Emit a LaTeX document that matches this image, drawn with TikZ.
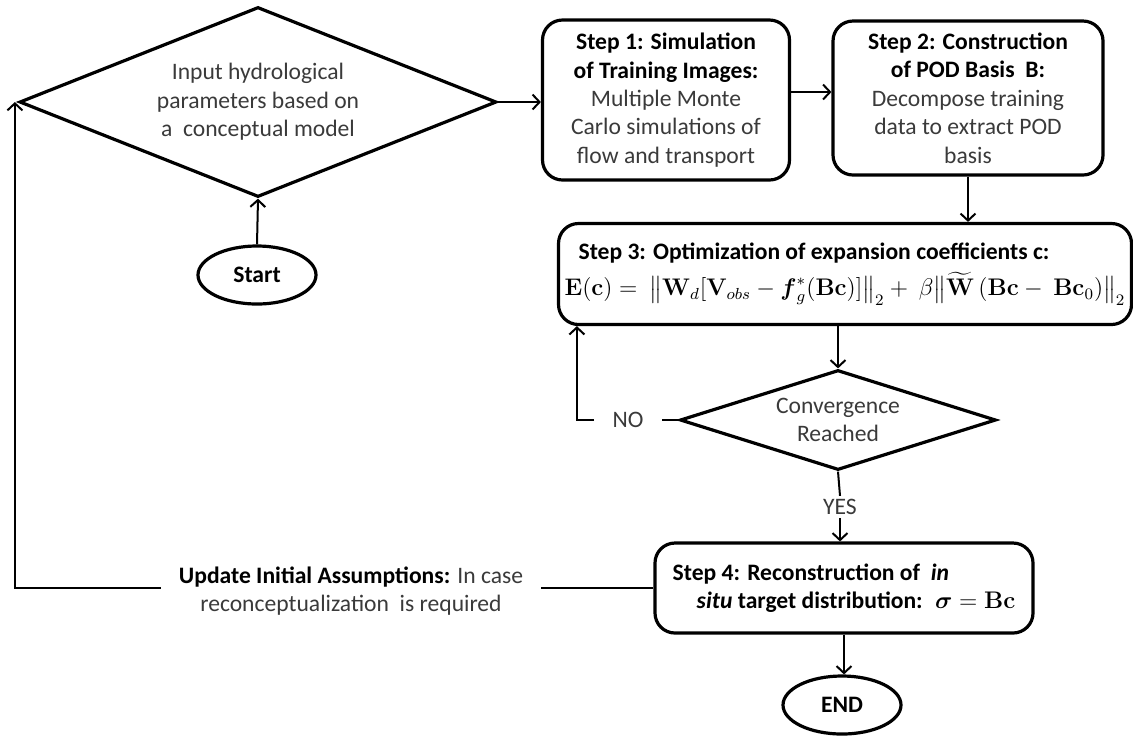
\documentclass[tikz,border=0pt]{standalone}
\usepackage{amsmath,amssymb}
\usepackage[no-math]{fontspec}
\setmainfont{Carlito}
\usetikzlibrary{arrows.meta,positioning,shapes.geometric,calc}
\definecolor{FlowLine}{HTML}{000000}
\definecolor{FlowText}{HTML}{3A3A3A}
\newcommand{\hd}[1]{{\color{black}\bfseries #1}}
\tikzset{>={Straight Barb[length=3.5pt,width=7.5pt]},every node/.style={font=\fontsize{11.8}{14.2}\selectfont,text=FlowText},
 stepbox/.style={draw=FlowLine,line width=1.6pt,rounded corners=10pt,align=center,inner sep=0pt},
 decide/.style={diamond,draw=FlowLine,line width=1.6pt,aspect=2.5,align=center,inner sep=0pt},
 term/.style={ellipse,draw=FlowLine,line width=1.6pt,minimum width=59pt,minimum height=29pt,inner sep=0pt},
 link/.style={draw=FlowLine,line width=1pt},
 tag/.style={inner xsep=9pt,inner ysep=2pt,align=center}}
\begin{document}
\begin{tikzpicture}[x=0.5pt,y=-0.5pt]
\useasboundingbox (0,0) rectangle (1133,736);
\node[decide,minimum width=238.5pt,minimum height=95pt] (in) at (258,102) {Input hydrological\\parameters based on\\a \ conceptual model};
\node[term] (start) at (257,275) {\hd{Start}};
\node[stepbox,minimum width=123.5pt,minimum height=80pt] (s1) at (666,100) {\hd{Step 1: Simulation}\\\hd{of Training Images:}\\Multiple Monte\\Carlo simulations of\\flow and transport};
\node[stepbox,minimum width=135pt,minimum height=77pt] (s2) at (968,98) {\hd{Step 2: Construction}\\\hd{of POD Basis \ B:}\\Decompose training\\data to extract POD\\basis};
\node[stepbox,minimum width=286.5pt,minimum height=50.5pt,align=left] (s3) at (845,274) {\hspace*{7pt}\hd{Step 3: Optimization of expansion coefficients c:}\\[4pt]
 {\fontsize{11.5}{14}\selectfont\color{black}$\mathbf{E}(\mathbf{c}) =\ \bigl\|\mathbf{W}_{d}[\mathbf{V}_{obs}-\boldsymbol{f}_{g}^{*}(\mathbf{Bc})]\bigr\|_2+\ \beta\bigl\|\widetilde{\mathbf{W}}\,(\mathbf{Bc}-\ \mathbf{Bc}_0)\bigr\|_2$}};
\node[decide,minimum width=158pt,minimum height=50pt] (conv) at (838,420) {Convergence\\Reached};
\node[tag] (no) at (628,420) {NO};
\node[tag,inner ysep=1.5pt] (yes) at (840,507) {YES};
\node[stepbox,minimum width=189pt,minimum height=45pt,align=left] (s4) at (844,588) {\hd{Step 4: Reconstruction of \ \textit{in}}\\\hspace*{12pt}\hd{\textit{situ} target distribution: \ $\boldsymbol{\sigma}=\mathbf{Bc}$}};
\node[term] (end) at (842,705) {\hd{END}};
\node[tag] (upd) at (351,591) {\hd{Update Initial Assumptions:} In case\\reconceptualization \ is required};
\draw[link,->] (start.north) -- (in.south);
\draw[link,->] (in.east) -- (in.east -| s1.west);
\draw[link,->] ([yshift=4pt]s1.east) -- ([yshift=4pt]s1.east -| s2.west);
\draw[link,->] (s2.south) -- (s2.south |- s3.north);
\draw[link,->] (conv.north |- s3.south) -- (conv.north);
\draw[link] (conv.west) -- (no.east);
\draw[link,->] (no.west) -| ([xshift=10pt]s3.south west);
\draw[link] (conv.south) -- (yes.north);
\draw[link,->] (yes.south) -- (yes.south |- s4.north);
\draw[link,->] (s4.south) -- (s4.south |- end.north);
\draw[link] (s4.west) -- (s4.west -| upd.east);
\draw[link,->] (s4.west -| upd.west) -| ([xshift=-1.5pt]in.west);
\end{tikzpicture}
\end{document}
